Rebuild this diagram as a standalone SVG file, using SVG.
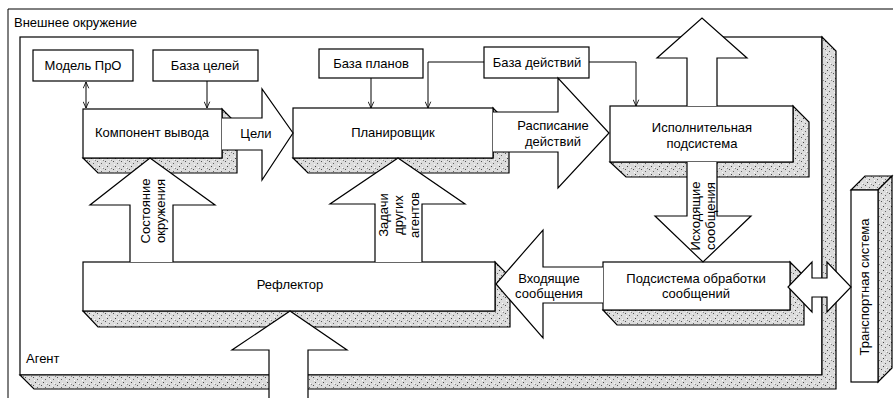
<svg xmlns="http://www.w3.org/2000/svg" width="896" height="408" viewBox="0 0 896 408">
<defs>
<pattern id="st" width="8" height="8" patternUnits="userSpaceOnUse">
<rect width="8" height="8" fill="#dcdcdc"/>
<rect x="1" y="1" width="1" height="1" fill="#555"/>
<rect x="5" y="3" width="1" height="1" fill="#666"/>
<rect x="3" y="6" width="1" height="1" fill="#444"/>
<rect x="6" y="7" width="1" height="1" fill="#fafafa"/>
<rect x="2" y="4" width="1" height="1" fill="#fafafa"/>
<rect x="7" y="0" width="1" height="1" fill="#888"/>
<rect x="4" y="1" width="1" height="1" fill="#f0f0f0"/>
</pattern>
<marker id="ah" viewBox="0 0 10 10" refX="10" refY="5" markerWidth="7" markerHeight="7" orient="auto-start-reverse">
<path d="M1,1 L10,5 L1,9" fill="none" stroke="#000" stroke-width="1.2"/>
</marker>
<style>
.box{fill:#fff;stroke:#000;stroke-width:1.2}
.sh{fill:url(#st);stroke:#000;stroke-width:1.2;stroke-linejoin:miter}
.ln{fill:none;stroke:#000;stroke-width:1}
.blk{fill:#fff;stroke:#000;stroke-width:1.2;stroke-linejoin:miter}
text{font-family:"Liberation Sans",Arial,sans-serif;font-size:13px;fill:#000}
.c{text-anchor:middle}
</style>
</defs>
<rect width="896" height="408" fill="#fff"/>

<g id="environment">
<path class="ln" d="M8,398 V9 H893" stroke-width="1.2"/>
<text x="14" y="27">Внешнее окружение</text>
</g>

<g id="agent">
<rect class="box" x="20" y="37" width="802" height="338"/>
<polygon class="sh" points="20,375 34,389 836,389 836,51 822,37 822,375"/>
<text x="26" y="363">Агент</text>
</g>

<g id="model">
<rect class="box" x="33" y="50" width="100" height="31"/>
<text class="c" x="83" y="70">Модель ПрО</text>
</g>

<g id="goals-base">
<rect class="box" x="153" y="50" width="105" height="31"/>
<text class="c" x="205" y="70">База целей</text>
</g>

<g id="plans-base">
<rect class="box" x="319" y="49" width="104" height="29"/>
<text class="c" x="371" y="68">База планов</text>
</g>

<g id="actions-base">
<rect class="box" x="484" y="47" width="105" height="31"/>
<text class="c" x="537" y="67">База действий</text>
</g>

<g id="inference">
<polygon class="sh" points="83,158 98,173 237,173 237,124 222,109 222,158"/>
<rect class="box" x="83" y="109" width="139" height="49"/>
<text class="c" x="152" y="137">Компонент вывода</text>
</g>

<g id="planner">
<polygon class="sh" points="293,158 308,173 509,173 509,124 493,108 493,158"/>
<rect class="box" x="293" y="108" width="200" height="50"/>
<text class="c" x="393" y="137">Планировщик</text>
</g>

<g id="executive">
<polygon class="sh" points="610,162 626,177 809,177 809,122 793,106 793,162"/>
<rect class="box" x="610" y="106" width="183" height="56"/>
<text class="c" x="702" y="132">Исполнительная</text>
<text class="c" x="702" y="148">подсистема</text>
</g>

<g id="reflector">
<polygon class="sh" points="83,311 98,327 510,327 510,277 495,262 495,311"/>
<rect class="box" x="83" y="262" width="412" height="49"/>
<text class="c" x="290" y="289">Рефлектор</text>
</g>

<g id="messaging">
<polygon class="sh" points="603,310 617,325 804,325 804,276 790,262 790,310"/>
<rect class="box" x="603" y="262" width="187" height="48"/>
<text class="c" x="696" y="283">Подсистема обработки</text>
<text class="c" x="696" y="298">сообщений</text>
</g>

<g id="transport">
<polygon class="sh" points="851,190 865,176 892,176 878,190"/>
<polygon class="sh" points="878,190 892,176 892,368 878,382"/>
<rect class="box" x="851" y="190" width="27" height="192"/>
<text class="c" transform="translate(869,287) rotate(-90)">Транспортная система</text>
</g>

<g id="connectors">
<path class="ln" d="M86,82 V108" marker-start="url(#ah)" marker-end="url(#ah)"/>
<path class="ln" d="M207,81 V108" marker-end="url(#ah)"/>
<path class="ln" d="M371,78 V108" marker-end="url(#ah)"/>
<path class="ln" d="M484,62 H428 V108" marker-end="url(#ah)"/>
<path class="ln" d="M589,62 H636 V106" marker-end="url(#ah)"/>

<path class="blk" d="M222,118 H262 V89 L293,133 L262,180 V150 H222"/>
<text class="c" x="256" y="138">Цели</text>

<path class="blk" d="M493,112 H558 V78 L609,133 L558,188 V152 H493"/>
<text class="c" x="553" y="130">Расписание</text>
<text class="c" x="553" y="146">действий</text>

<path class="blk" d="M687,106 V58 H657 L702,18 L747,58 H717 V106"/>

<path class="blk" d="M687,162 V216 H655 L703,262 L751,216 H717 V162"/>
<text class="c" transform="translate(700,216) rotate(-90)">Исходящие</text>
<text class="c" transform="translate(715,216) rotate(-90)">сообщения</text>

<path class="blk" d="M603,267 H543 V230 L496,284 L543,338 V303 H603"/>
<text class="c" x="549" y="283">Входящие</text>
<text class="c" x="549" y="298">сообщения</text>

<path class="blk" d="M812,278 H827 V262 L851,287 L827,312 V297 H812 V312 L788,287 L812,262 Z"/>

<path class="blk" d="M130,262 V205 H90 L150,158 L215,205 H173 V262"/>
<text class="c" transform="translate(150,211) rotate(-90)">Состояние</text>
<text class="c" transform="translate(165,211) rotate(-90)">окружения</text>

<path class="blk" d="M375,262 V204 H330 L398,158 L465,204 H422 V262"/>
<text class="c" transform="translate(388,215) rotate(-90)">Задачи</text>
<text class="c" transform="translate(403,215) rotate(-90)">других</text>
<text class="c" transform="translate(419,215) rotate(-90)">агентов</text>

<path class="blk" d="M269,398 V350 H232 L290,311 L347,350 H308 V398"/>
</g>
</svg>
